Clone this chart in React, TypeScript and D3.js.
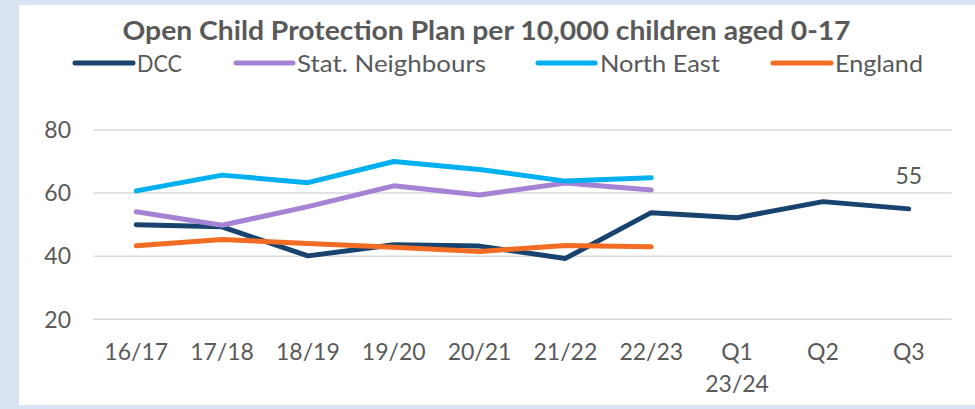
import React from "react";
import * as d3 from "d3";

const categories = ["16/17", "17/18", "18/19", "19/20", "20/21", "21/22", "22/23", "Q1", "Q2", "Q3"];
const categorySubLabels = ["", "", "", "", "", "", "", "23/24", "", ""];
const dcc = [50, 49.3, 40.1, 43.6, 43.2, 39.3, 53.8, 52.2, 57.3, 55];
const statNeighbours = [54.1, 49.8, 55.7, 62.3, 59.4, 63.2, 61];
const northEast = [60.7, 65.7, 63.3, 70, 67.5, 63.8, 64.9];
const england = [43.3, 45.3, 44, 42.8, 41.5, 43.4, 43];
const yTicks = [20, 40, 60, 80];
const title = "Open Child Protection Plan per 10,000 children aged 0-17";

const seriesList = [
  { name: "DCC", values: dcc, color: "#18436f" },
  { name: "Stat. Neighbours", values: statNeighbours, color: "#a682d5" },
  { name: "North East", values: northEast, color: "#00b0f0" },
  { name: "England", values: england, color: "#f26c23" },
];

const legendLayout = [
  { x1: 75, x2: 133, tx: 137, tw: 45 },
  { x1: 236, x2: 293, tx: 297, tw: 189 },
  { x1: 538, x2: 595, tx: 600, tw: 120 },
  { x1: 773, x2: 831, tx: 835, tw: 88 },
];

export default function App() {
  const W = 975;
  const H = 409;
  const x = d3.scalePoint<string>().domain(categories).range([93.3, 951.7]).padding(0.5);
  const y = d3.scaleLinear().domain([20, 80]).range([319.3, 130]);
  const line = d3
    .line<number>()
    .x((_, i) => x(categories[i]) as number)
    .y((d) => y(d));
  const font = "Lato, 'Open Sans', sans-serif";
  const textColor = "#595959";
  const lastIdx = dcc.length - 1;

  return (
    <svg width={W} height={H} style={{ position: "absolute", left: 0, top: 0 }} fontFamily={font}>
      <rect x={0} y={0} width={W} height={H} fill="#dae3f3" />
      <rect x={19} y={5} width={W - 19} height={400} fill="#ffffff" />
      <text x={122.5} y={40} fontSize={26} fontWeight="bold" fill={textColor} textLength={728} lengthAdjust="spacingAndGlyphs">
        {title}
      </text>
      {seriesList.map((s, i) => (
        <g key={s.name}>
          <line x1={legendLayout[i].x1} x2={legendLayout[i].x2} y1={63} y2={63} stroke={s.color} strokeWidth={5} strokeLinecap="round" />
          <text x={legendLayout[i].tx} y={71.5} fontSize={24} fill={textColor} textLength={legendLayout[i].tw} lengthAdjust="spacingAndGlyphs">
            {s.name}
          </text>
        </g>
      ))}
      {yTicks.map((t) => (
        <g key={t}>
          <line x1={93.3} x2={951.7} y1={y(t)} y2={y(t)} stroke="#d9d9d9" strokeWidth={1.5} />
          <text x={71} y={y(t)} dy="0.36em" textAnchor="end" fontSize={23} fill={textColor}>
            {t}
          </text>
        </g>
      ))}
      {categories.map((c, i) => (
        <g key={c}>
          <text x={x(c) as number} y={360} textAnchor="middle" fontSize={23} fill={textColor}>
            {c}
          </text>
          {categorySubLabels[i] && (
            <text x={x(c) as number} y={391.5} textAnchor="middle" fontSize={23} fill={textColor}>
              {categorySubLabels[i]}
            </text>
          )}
        </g>
      ))}
      {seriesList.map((s) => (
        <path key={s.name} d={line(s.values) || ""} fill="none" stroke={s.color} strokeWidth={5} strokeLinecap="round" strokeLinejoin="round" />
      ))}
      <text x={x(categories[lastIdx]) as number} y={183.5} textAnchor="middle" fontSize={23} fill={textColor}>
        {dcc[lastIdx]}
      </text>
    </svg>
  );
}
